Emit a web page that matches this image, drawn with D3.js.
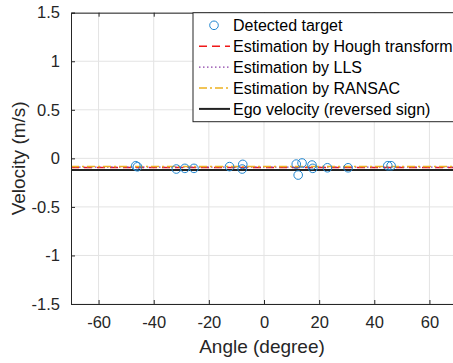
<!DOCTYPE html>
<html>
<head>
<meta charset="utf-8">
<script src="https://cdn.jsdelivr.net/npm/d3@7"></script>
<style>
  html, body { margin: 0; padding: 0; background: #fff; }
  svg { display: block; font-family: "Liberation Sans", Arial, Helvetica, sans-serif; }
</style>
</head>
<body>
<svg id="chart" width="453" height="363"></svg>
<script>
// Detected radar targets: azimuth angle (deg) and radial velocity (m/s)
const angles = [-46.5, -45.9, -31.8, -28.7, -25.4, -12.5, -7.7, -7.9, 11.7, 13.8, 12.4, 17.4, 17.7, 23.0, 30.5, 44.9, 46.1];
const velocities = [-0.076, -0.087, -0.110, -0.103, -0.103, -0.085, -0.062, -0.110, -0.059, -0.048, -0.172, -0.069, -0.103, -0.097, -0.097, -0.076, -0.076];

// Estimated velocity levels (horizontal lines)
const estimateNames = ["Estimation by Hough transform", "Estimation by LLS", "Estimation by RANSAC", "Ego velocity (reversed sign)"];
const estimateValues = [-0.095, -0.09, -0.085, -0.12];

const xTicks = [-60, -40, -20, 0, 20, 40, 60];
const yTicks = [-1.5, -1, -0.5, 0, 0.5, 1, 1.5];
const xDomain = [-70, 70];
const yDomain = [-1.5, 1.5];

const lineStyles = [
  { color: "#f01818", width: 1.5, dash: "8,5" },
  { color: "#8a3fa6", width: 1.3, dash: "1.5,2.5" },
  { color: "#edb120", width: 1.5, dash: "8,3,2,3" },
  { color: "#222222", width: 2, dash: null }
];

const svg = d3.select("#chart");
const plot = { left: 71, right: 457, top: 12.7, bottom: 304 };

const x = d3.scaleLinear().domain(xDomain).range([plot.left, plot.right]);
const y = d3.scaleLinear().domain(yDomain).range([plot.bottom, plot.top]);

svg.append("defs").append("clipPath").attr("id", "clip")
  .append("rect")
  .attr("x", plot.left).attr("y", plot.top)
  .attr("width", plot.right - plot.left).attr("height", plot.bottom - plot.top);

// grid
const grid = svg.append("g").attr("stroke", "#e3e3e3").attr("stroke-width", 1);
grid.selectAll("line.gx").data(xTicks).join("line")
  .attr("x1", d => x(d)).attr("x2", d => x(d))
  .attr("y1", plot.top).attr("y2", plot.bottom);
grid.selectAll("line.gy").data(yTicks).join("line")
  .attr("y1", d => y(d)).attr("y2", d => y(d))
  .attr("x1", plot.left).attr("x2", plot.right);

// estimate lines
const data = svg.append("g").attr("clip-path", "url(#clip)");
const order = [3, 0, 1, 2];
order.forEach(i => {
  data.append("line")
    .attr("x1", x(xDomain[0])).attr("x2", x(xDomain[1]))
    .attr("y1", y(estimateValues[i])).attr("y2", y(estimateValues[i]))
    .attr("stroke", lineStyles[i].color)
    .attr("stroke-width", lineStyles[i].width)
    .attr("stroke-dasharray", lineStyles[i].dash);
});

// detected targets
data.selectAll("circle").data(angles).join("circle")
  .attr("cx", d => x(d))
  .attr("cy", (d, i) => y(velocities[i]))
  .attr("r", 4.3)
  .attr("fill", "none")
  .attr("stroke", "#1f86d0")
  .attr("stroke-width", 1);

// axes
const axisColor = "#262626";
const tickFont = 16.5;
const xAxisB = svg.append("g").attr("transform", `translate(0,${plot.bottom})`)
  .call(d3.axisBottom(x).tickValues(xTicks).tickSize(-4).tickPadding(12));
const xAxisT = svg.append("g").attr("transform", `translate(0,${plot.top})`)
  .call(d3.axisTop(x).tickValues(xTicks).tickSize(-4).tickFormat(""));
const yAxisL = svg.append("g").attr("transform", `translate(${plot.left},0)`)
  .call(d3.axisLeft(y).tickValues(yTicks).tickSize(-4).tickPadding(11));
[xAxisB, xAxisT, yAxisL].forEach(a => {
  a.select(".domain").attr("stroke", axisColor).attr("stroke-width", 1);
  a.selectAll(".tick line").attr("stroke", axisColor);
  a.selectAll(".tick text").attr("fill", "#262626").style("font-size", tickFont + "px")
    .style("font-family", "'Liberation Sans', Arial, sans-serif");
});
xAxisB.selectAll(".tick text").text(d => String(d));
yAxisL.selectAll(".tick text").text(d => String(d));

// axis titles
svg.append("text")
  .attr("x", (plot.left + plot.right) / 2 - 2)
  .attr("y", 353)
  .attr("text-anchor", "middle")
  .attr("fill", "#262626")
  .style("font-size", "19px")
  .text("Angle (degree)");
svg.append("text")
  .attr("transform", `translate(25,${(plot.top + plot.bottom) / 2}) rotate(-90)`)
  .attr("text-anchor", "middle")
  .attr("fill", "#262626")
  .style("font-size", "19px")
  .text("Velocity (m/s)");

// legend
const legend = { left: 193, top: 12.7, bottom: 121.7, rowH: 20.9, first: 31.3 };
const lg = svg.append("g");
lg.append("rect")
  .attr("x", legend.left).attr("y", legend.top)
  .attr("width", 300).attr("height", legend.bottom - legend.top)
  .attr("fill", "#fff").attr("stroke", axisColor).attr("stroke-width", 1);

const legendLabels = ["Detected target"].concat(estimateNames);
legendLabels.forEach((label, i) => {
  const cy = legend.first + i * legend.rowH;
  if (i === 0) {
    lg.append("circle").attr("cx", 214).attr("cy", cy - 6)
      .attr("r", 4.3).attr("fill", "none").attr("stroke", "#1f86d0").attr("stroke-width", 1);
  } else {
    const s = lineStyles[i - 1];
    lg.append("line")
      .attr("x1", 199).attr("x2", 230)
      .attr("y1", cy - 6).attr("y2", cy - 6)
      .attr("stroke", s.color).attr("stroke-width", s.width)
      .attr("stroke-dasharray", s.dash);
  }
  lg.append("text")
    .attr("x", 233).attr("y", cy)
    .attr("fill", "#000")
    .style("font-size", "16px")
    .text(label);
});
</script>
</body>
</html>
